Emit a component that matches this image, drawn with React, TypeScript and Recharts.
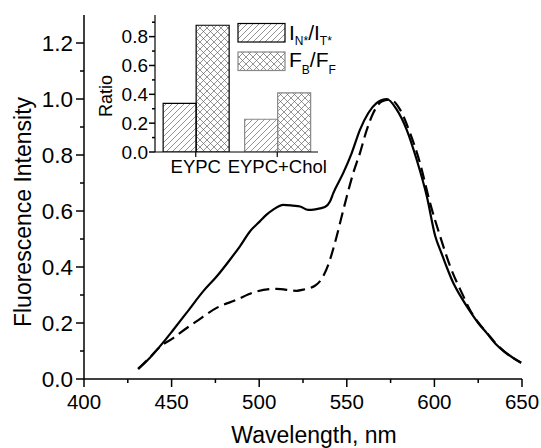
import { LineChart, Line, XAxis, YAxis, BarChart, Bar, Cell, Label } from 'recharts'

const FONT = '"Liberation Sans", Arial, sans-serif'

// solid curve (nm, intensity)
const solidNm = [
  430.9, 437.5, 445, 451, 458.5, 468, 475.7, 483.3, 489, 494.7, 500.4, 504.2, 508,
  513.7, 519.4, 523.3, 528, 532, 537.5, 540.4, 542.3, 548, 552.8, 557.5, 562.3, 567.1,
  572.8, 578.5, 584.2, 589.9, 595.7, 600.5, 604, 607, 611, 615, 620, 625, 630, 635,
  640, 645, 649.5,
]
const solidVal = [
  0.036, 0.075, 0.129, 0.176, 0.236, 0.313, 0.366, 0.426, 0.474, 0.527, 0.563, 0.587, 0.605,
  0.622, 0.619, 0.616, 0.604, 0.606, 0.614, 0.634, 0.664, 0.736, 0.807, 0.89, 0.95, 0.986,
  1.0, 0.962, 0.89, 0.783, 0.652, 0.51, 0.45, 0.4, 0.34, 0.295, 0.245, 0.2, 0.163, 0.125,
  0.097, 0.075, 0.058,
]

// dashed curve (nm, intensity)
const dashNm = [
  430.9, 437, 443.3, 450.9, 454.7, 464.2, 475.7, 487.1, 496.6, 509.9, 521.4, 525.1, 531.8,
  535.7, 539.4, 544.2, 547.1, 550, 553.7, 557.5, 561.4, 565.1, 569.9, 574.7, 580.4, 586.1,
  591.8, 597.5, 603.3, 609, 616.6, 620, 625, 630, 635, 640, 645, 649.5,
]
const dashVal = [
  0.036, 0.073, 0.115, 0.146, 0.164, 0.206, 0.254, 0.283, 0.309, 0.322, 0.315, 0.319, 0.333,
  0.358, 0.408, 0.509, 0.581, 0.652, 0.736, 0.807, 0.89, 0.95, 0.991, 0.998, 0.962, 0.879,
  0.771, 0.629, 0.509, 0.402, 0.295, 0.25, 0.202, 0.165, 0.127, 0.098, 0.075, 0.058,
]

const xTicks = [400, 425, 450, 475, 500, 525, 550, 575, 600, 625, 650]
const yTicks = [0, 0.1, 0.2, 0.3, 0.4, 0.5, 0.6, 0.7, 0.8, 0.9, 1.0, 1.1, 1.2]

// inset bars
const insetCats = ['EYPC', 'EYPC+Chol']
const ratioNT = [0.337, 0.227]
const ratioBF = [0.879, 0.41]
const insetTicks = [0, 0.1, 0.2, 0.3, 0.4, 0.5, 0.6, 0.7, 0.8, 0.9]
const insetStroke = ['#000', '#888']

const solidData = solidNm.map((x, i) => ({ x, y: solidVal[i] }))
const dashData = dashNm.map((x, i) => ({ x, y: dashVal[i] }))
const insetData = insetCats.map((name, i) => ({ name, nt: ratioNT[i], bf: ratioBF[i] }))

const isEven10 = (v: number) => Math.round(v * 10) % 2 === 0

function YTick(props: any) {
  const { x, y, payload, fs, major, minor, gap } = props
  const big = isEven10(payload.value)
  return (
    <g>
      <line x1={x} x2={x - (big ? major : minor)} y1={y} y2={y} stroke="#000" strokeWidth={1.5} />
      {big && (
        <text x={x - gap} y={y} textAnchor="end" dominantBaseline="central" fontSize={fs} fontFamily={FONT} fill="#000">
          {payload.value.toFixed(1)}
        </text>
      )}
    </g>
  )
}

function XTick(props: any) {
  const { x, y, payload } = props
  const big = Math.round(payload.value) % 50 === 0
  return (
    <g>
      <line x1={x} x2={x} y1={y} y2={y + (big ? 8 : 4)} stroke="#000" strokeWidth={1.5} />
      {big && (
        <text x={x} y={y + 30} textAnchor="middle" fontSize={20.5} fontFamily={FONT} fill="#000">
          {payload.value}
        </text>
      )}
    </g>
  )
}

function Hatches({ p }: { p: string }) {
  return (
    <defs>
      <pattern id={p + 'diag'} patternUnits="userSpaceOnUse" width={6} height={6}>
        <path d="M-1,1 l2,-2 M0,6 l6,-6 M5,7 l2,-2" stroke="#666" strokeWidth={0.7} />
      </pattern>
      <pattern id={p + 'cross'} patternUnits="userSpaceOnUse" width={7} height={7}>
        <path d="M-1,1 l2,-2 M0,7 l7,-7 M6,8 l2,-2 M-1,6 l2,2 M0,0 l7,7 M6,-1 l2,2" stroke="#666" strokeWidth={0.7} />
      </pattern>
    </defs>
  )
}

export default function App() {
  return (
    <div style={{ position: 'absolute', left: 0, top: 0, width: 541, height: 448, background: '#fff', fontFamily: FONT }}>
      <LineChart width={541} height={448} margin={{ top: 15, right: 19, left: 0, bottom: 0 }}>
        <XAxis
          dataKey="x"
          type="number"
          domain={[400, 650]}
          ticks={xTicks}
          interval={0}
          height={69}
          tickLine={false}
          tickSize={0}
          tickMargin={0}
          tick={<XTick />}
          axisLine={{ stroke: '#000', strokeWidth: 1.5 }}
          allowDataOverflow
        >
          <Label
            content={() => (
              <text x={314} y={443} textAnchor="middle" fontSize={23} fontFamily={FONT} fill="#000">
                Wavelength, nm
              </text>
            )}
          />
        </XAxis>
        <YAxis
          dataKey="y"
          type="number"
          domain={[0, 1.3]}
          ticks={yTicks}
          interval={0}
          width={84}
          tickLine={false}
          tickSize={0}
          tickMargin={0}
          tick={<YTick fs={22.5} major={8} minor={4} gap={11} />}
          axisLine={{ stroke: '#000', strokeWidth: 1.5 }}
          allowDataOverflow
        >
          <Label
            content={() => (
              <text transform="translate(31,212) rotate(-90)" textAnchor="middle" fontSize={23} fontFamily={FONT} fill="#000">
                Fluorescence Intensity
              </text>
            )}
          />
        </YAxis>
        <Line data={dashData} dataKey="y" type="monotone" stroke="#000" strokeWidth={2.2} strokeDasharray="12 6" dot={false} isAnimationActive={false} />
        <Line data={solidData} dataKey="y" type="monotone" stroke="#000" strokeWidth={2.2} dot={false} isAnimationActive={false} />
      </LineChart>

      <div style={{ position: 'absolute', left: 60, top: 0 }}>
        <BarChart width={270} height={190} data={insetData} margin={{ top: 15, right: 12, left: 0, bottom: 0 }} barCategoryGap="10%" barGap={0}>
          <Hatches p="b" />
          <XAxis
            dataKey="name"
            height={38}
            tickSize={5}
            tickMargin={3}
            tickLine={{ stroke: '#000', strokeWidth: 1.2 }}
            axisLine={{ stroke: '#000', strokeWidth: 1.2 }}
            tick={{ fontSize: 18.5, fontFamily: FONT, fill: '#000' }}
            interval={0}
          />
          <YAxis
            type="number"
            domain={[0, 0.95]}
            ticks={insetTicks}
            interval={0}
            width={95}
            tickLine={false}
            tickSize={0}
            tickMargin={0}
            tick={<YTick fs={19} major={6} minor={3} gap={7} />}
            axisLine={{ stroke: '#000', strokeWidth: 1.2 }}
            allowDataOverflow
          >
            <Label
              content={() => (
                <text transform="translate(52,96) rotate(-90)" textAnchor="middle" fontSize={18} fontFamily={FONT} fill="#000">
                  Ratio
                </text>
              )}
            />
          </YAxis>
          <Bar dataKey="nt" fill="url(#bdiag)" strokeWidth={1.2} isAnimationActive={false}>
            {insetData.map((d, i) => (
              <Cell key={d.name} stroke={insetStroke[i]} />
            ))}
          </Bar>
          <Bar dataKey="bf" fill="url(#bcross)" strokeWidth={1.2} isAnimationActive={false}>
            {insetData.map((d, i) => (
              <Cell key={d.name} stroke={insetStroke[i]} />
            ))}
          </Bar>
        </BarChart>
      </div>

      <svg width={110} height={70} style={{ position: 'absolute', left: 232, top: 15 }}>
        <Hatches p="l" />
        <rect x={6} y={8.5} width={47} height={18.5} fill="url(#ldiag)" stroke="#000" strokeWidth={1.2} />
        <rect x={6} y={37} width={47} height={18.5} fill="url(#lcross)" stroke="#888" strokeWidth={1.2} />
        <text x={57} y={25} fontSize={21} fontFamily={FONT} fill="#000">
          I<tspan fontSize={12} dy={5}>N*</tspan>
          <tspan dy={-5}>/I</tspan>
          <tspan fontSize={12} dy={5}>T*</tspan>
        </text>
        <text x={57} y={52} fontSize={21} fontFamily={FONT} fill="#000">
          F<tspan fontSize={12} dy={7}>B</tspan>
          <tspan dy={-7}>/F</tspan>
          <tspan fontSize={12} dy={7}>F</tspan>
        </text>
      </svg>
    </div>
  )
}
